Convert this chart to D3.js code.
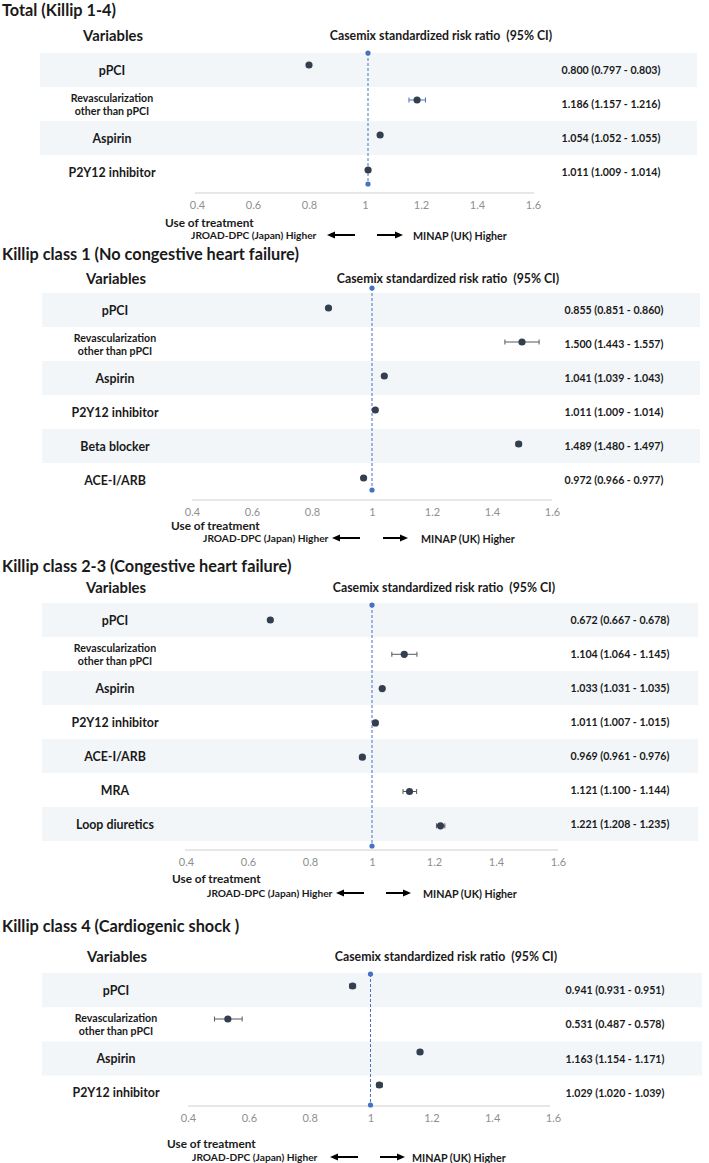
<!DOCTYPE html>
<html>
<head>
<meta charset="utf-8">
<script src="https://cdn.jsdelivr.net/npm/d3@7"></script>
<style>
  html, body { margin: 0; padding: 0; background: #ffffff; }
  svg { display: block; }
  text { font-family: Lato, "Open Sans", sans-serif; fill: #1a1a1a; }
</style>
</head>
<body>
<svg id="chart" width="709" height="1163"></svg>
<script>
// ---------------- DATA ----------------
const panelTitles = [
  "Total (Killip 1-4)",
  "Killip class 1 (No congestive heart failure)",
  "Killip class 2-3 (Congestive heart failure)",
  "Killip class 4 (Cardiogenic shock )"
];
const headerVariables = "Variables";
const headerRatio = "Casemix standardized risk ratio  (95% CI)";
const noteUse = "Use of treatment";
const noteLeft = "JROAD-DPC (Japan) Higher";
const noteRight = "MINAP (UK) Higher";
const tickValues = [0.4, 0.6, 0.8, 1.0, 1.2, 1.4, 1.6];
const tickLabels = ["0.4", "0.6", "0.8", "1", "1.2", "1.4", "1.6"];
const refValue = 1;

const vars1 = ["pPCI", "Revascularization\nother than pPCI", "Aspirin", "P2Y12 inhibitor"];
const est1  = [0.800, 1.186, 1.054, 1.011];
const lo1   = [0.797, 1.157, 1.052, 1.009];
const hi1   = [0.803, 1.216, 1.055, 1.014];

const vars2 = ["pPCI", "Revascularization\nother than pPCI", "Aspirin", "P2Y12 inhibitor", "Beta blocker", "ACE-I/ARB"];
const est2  = [0.855, 1.500, 1.041, 1.011, 1.489, 0.972];
const lo2   = [0.851, 1.443, 1.039, 1.009, 1.480, 0.966];
const hi2   = [0.860, 1.557, 1.043, 1.014, 1.497, 0.977];

const vars3 = ["pPCI", "Revascularization\nother than pPCI", "Aspirin", "P2Y12 inhibitor", "ACE-I/ARB", "MRA", "Loop diuretics"];
const est3  = [0.672, 1.104, 1.033, 1.011, 0.969, 1.121, 1.221];
const lo3   = [0.667, 1.064, 1.031, 1.007, 0.961, 1.100, 1.208];
const hi3   = [0.678, 1.145, 1.035, 1.015, 0.976, 1.144, 1.235];

const vars4 = ["pPCI", "Revascularization\nother than pPCI", "Aspirin", "P2Y12 inhibitor"];
const est4  = [0.941, 0.531, 1.163, 1.029];
const lo4   = [0.931, 0.487, 1.154, 1.020];
const hi4   = [0.951, 0.578, 1.171, 1.039];

// ---------------- LAYOUT (positions / styles) ----------------
const layouts = [
  { titleY: 9, headY: 35, rowTop: 53, rowH: 34, bandX0: 40, bandX1: 697,
    x0: 197, x1: 533, axisY: 193, axisX0: 195, axisX1: 534, refTop: 53, refBot: 184, refShift: 3,
    dotY0: 65, dotStep: 35, labelX: 112, ratioX: 441, valueX: 611,
    useX: 165, useY: 222, noteY: 235, leftX: 191, arrL: [327, 355], arrR: [377, 403], rightX: 413,
    ebColor: "#4472c4" },
  { titleY: 253, headY: 278, rowTop: 293, rowH: 34, bandX0: 42, bandX1: 700,
    x0: 192, x1: 552, axisY: 500, axisX0: 192, axisX1: 552, refTop: 288, refBot: 490, refShift: 0,
    dotY0: 308, dotStep: 34, labelX: 115, ratioX: 448, valueX: 614,
    useX: 171, useY: 525, noteY: 538, leftX: 203, arrL: [332, 360], arrR: [383, 408], rightX: 421,
    ebColor: "#595959" },
  { titleY: 565, headY: 587, rowTop: 603, rowH: 34, bandX0: 42, bandX1: 698,
    x0: 186, x1: 558, axisY: 850, axisX0: 185, axisX1: 558, refTop: 605, refBot: 846, refShift: 0,
    dotY0: 620, dotStep: 34.3, labelX: 115, ratioX: 444, valueX: 620,
    useX: 172, useY: 878, noteY: 893, leftX: 207, arrL: [336, 364], arrR: [386, 411], rightX: 423,
    ebColor: "#595959" },
  { titleY: 925, headY: 956, rowTop: 973, rowH: 34.2, bandX0: 42, bandX1: 702,
    x0: 188, x1: 553, axisY: 1106, axisX0: 188, axisX1: 550, refTop: 974, refBot: 1105, refShift: 0,
    dotY0: 986, dotStep: 33, labelX: 116, ratioX: 446, valueX: 615,
    useX: 167, useY: 1143, noteY: 1157, leftX: 192, arrL: [330, 358], arrR: [380, 405], rightX: 412,
    ebColor: "#595959" }
];

const panelData = [
  { vars: vars1, est: est1, lo: lo1, hi: hi1 },
  { vars: vars2, est: est2, lo: lo2, hi: hi2 },
  { vars: vars3, est: est3, lo: lo3, hi: hi3 },
  { vars: vars4, est: est4, lo: lo4, hi: hi4 }
];

const svg = d3.select("#chart");
const fmt = d3.format(".3f");

panelData.forEach((pd, pi) => {
  const L = layouts[pi];
  const g = svg.append("g");
  const n = pd.vars.length;

  const x = d3.scaleLinear().domain([tickValues[0], tickValues[tickValues.length - 1]]).range([L.x0, L.x1]);
  const yBand = d3.scaleBand().domain(d3.range(n)).range([L.rowTop, L.rowTop + n * L.rowH]).paddingInner(0).paddingOuter(0);
  const yDot = d3.scaleLinear().domain([0, 1]).range([L.dotY0, L.dotY0 + L.dotStep]);

  // title
  g.append("text").attr("x", 2).attr("y", L.titleY).attr("dominant-baseline", "central")
    .attr("font-size", 16.3).attr("font-weight", 700).text(panelTitles[pi]);

  // headers
  g.append("text").attr("x", L.labelX + 1).attr("y", L.headY).attr("text-anchor", "middle")
    .attr("dominant-baseline", "central").attr("font-size", 14.8).attr("font-weight", 700).text(headerVariables);
  g.append("text").attr("x", L.ratioX).attr("y", L.headY).attr("text-anchor", "middle")
    .attr("dominant-baseline", "central").attr("font-size", 12.3).attr("font-weight", 700)
    .style("white-space", "pre").text(headerRatio);

  // row bands
  g.selectAll("rect.band").data(d3.range(n).filter(i => i % 2 === 0)).join("rect")
    .attr("class", "band")
    .attr("x", L.bandX0).attr("width", L.bandX1 - L.bandX0)
    .attr("y", i => yBand(i)).attr("height", yBand.bandwidth())
    .attr("fill", "#f2f6f9");

  // axis
  const axis = d3.axisBottom(x).tickValues(tickValues)
    .tickFormat((d, i) => tickLabels[i]).tickSize(0).tickSizeOuter(0).tickPadding(8);
  const ag = g.append("g").attr("transform", `translate(0,${L.axisY})`).call(axis);
  ag.select(".domain").remove();
  ag.selectAll("text").attr("font-family", "'Liberation Serif', serif").attr("font-size", 11)
    .style("fill", "#8f8f8f");
  g.append("line").attr("x1", L.axisX0).attr("x2", L.axisX1).attr("y1", L.axisY).attr("y2", L.axisY)
    .attr("stroke", "#cfcfcf").attr("stroke-width", 1.2);

  // reference line
  const rx = x(refValue) + L.refShift;
  g.append("line").attr("x1", rx).attr("x2", rx).attr("y1", L.refTop).attr("y2", L.refBot)
    .attr("stroke", "#4472c4").attr("stroke-width", 1).attr("stroke-dasharray", "3,2");
  g.selectAll("circle.refdot").data([L.refTop, L.refBot]).join("circle").attr("class", "refdot")
    .attr("cx", rx).attr("cy", d => d).attr("r", 2.6).attr("fill", "#4472c4");

  // row labels
  pd.vars.forEach((v, i) => {
    const lines = v.split("\n");
    const cy = yBand(i) + yBand.bandwidth() / 2;
    if (lines.length === 1) {
      g.append("text").attr("x", L.labelX).attr("y", cy).attr("text-anchor", "middle")
        .attr("dominant-baseline", "central").attr("font-size", 12.4).attr("font-weight", 700).text(v);
    } else {
      lines.forEach((ln, k) => {
        g.append("text").attr("x", L.labelX).attr("y", cy + (k - 0.5) * 13).attr("text-anchor", "middle")
          .attr("dominant-baseline", "central").attr("font-size", 10.6).attr("font-weight", 700).text(ln);
      });
    }
    // value text
    g.append("text").attr("x", L.valueX).attr("y", cy).attr("text-anchor", "middle")
      .attr("dominant-baseline", "central").attr("font-size", 10.6).attr("font-weight", 700)
      .text(`${fmt(pd.est[i])} (${fmt(pd.lo[i])} - ${fmt(pd.hi[i])})`);
  });

  // error bars + points
  const pts = d3.range(n).map(i => ({ i, e: pd.est[i], lo: pd.lo[i], hi: pd.hi[i] }));
  const eb = g.selectAll("g.eb").data(pts).join("g").attr("class", "eb");
  eb.append("line").attr("x1", d => x(d.lo)).attr("x2", d => x(d.hi))
    .attr("y1", d => yDot(d.i)).attr("y2", d => yDot(d.i))
    .attr("stroke", L.ebColor).attr("stroke-width", 1);
  eb.append("line").attr("x1", d => x(d.lo)).attr("x2", d => x(d.lo))
    .attr("y1", d => yDot(d.i) - 2.5).attr("y2", d => yDot(d.i) + 2.5)
    .attr("stroke", L.ebColor).attr("stroke-width", 1);
  eb.append("line").attr("x1", d => x(d.hi)).attr("x2", d => x(d.hi))
    .attr("y1", d => yDot(d.i) - 2.5).attr("y2", d => yDot(d.i) + 2.5)
    .attr("stroke", L.ebColor).attr("stroke-width", 1);
  eb.append("circle").attr("cx", d => x(d.e)).attr("cy", d => yDot(d.i)).attr("r", 3.6)
    .attr("fill", "#333f50");

  // bottom note
  g.append("text").attr("x", L.useX).attr("y", L.useY).attr("dominant-baseline", "central")
    .attr("font-size", 11.8).attr("font-weight", 700).text(noteUse);
  g.append("text").attr("x", L.leftX).attr("y", L.noteY).attr("dominant-baseline", "central")
    .attr("font-size", 10.2).attr("font-weight", 700).text(noteLeft);
  g.append("text").attr("x", L.rightX).attr("y", L.noteY).attr("dominant-baseline", "central")
    .attr("font-size", 10.7).attr("font-weight", 700).text(noteRight);

  // arrows
  const drawArrow = (xa, xb, dir) => {
    const y = L.noteY;
    const head = 8, hw = 3.5;
    if (dir < 0) {
      g.append("line").attr("x1", xa + head - 1).attr("x2", xb).attr("y1", y).attr("y2", y)
        .attr("stroke", "#000").attr("stroke-width", 2);
      g.append("path").attr("d", `M${xa},${y} L${xa + head},${y - hw} L${xa + head},${y + hw} Z`).attr("fill", "#000");
    } else {
      g.append("line").attr("x1", xa).attr("x2", xb - head + 1).attr("y1", y).attr("y2", y)
        .attr("stroke", "#000").attr("stroke-width", 2);
      g.append("path").attr("d", `M${xb},${y} L${xb - head},${y - hw} L${xb - head},${y + hw} Z`).attr("fill", "#000");
    }
  };
  drawArrow(L.arrL[0], L.arrL[1], -1);
  drawArrow(L.arrR[0], L.arrR[1], 1);
});
</script>
</body>
</html>
